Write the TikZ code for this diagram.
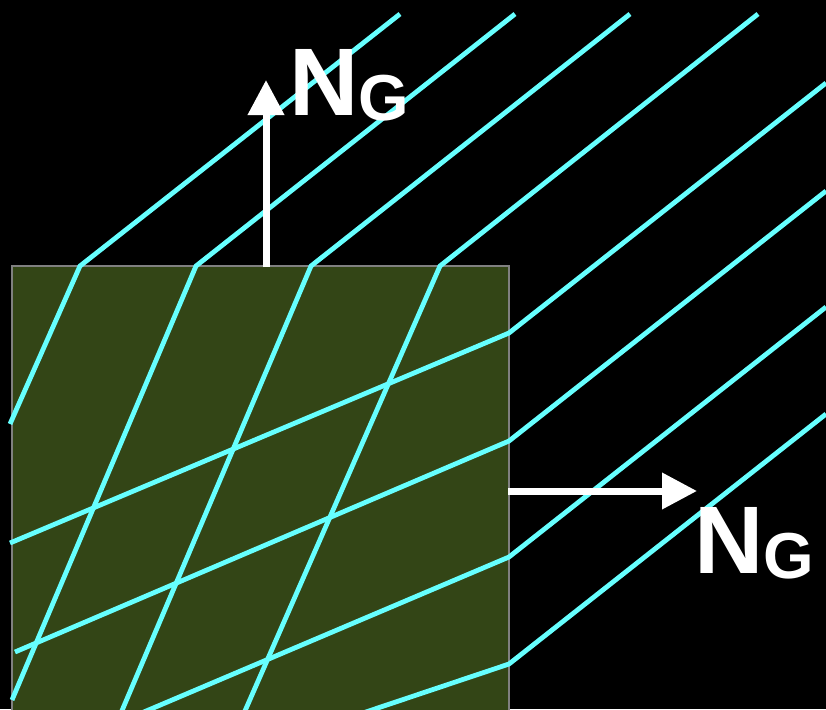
\documentclass[tikz,border=0pt]{standalone}
\usepackage{fontspec}
\setmainfont{Liberation Sans}
\usetikzlibrary{arrows.meta}
\definecolor{raycyan}{RGB}{102,255,255}
\definecolor{slabgreen}{RGB}{51,69,22}
\definecolor{slabedge}{RGB}{128,128,128}

\begin{document}
\begin{tikzpicture}[x=1pt,y=-1pt,
  ray/.style={raycyan,line width=4.8pt,line join=miter},
  ngarrow/.style={white,line width=7pt,-{Triangle[width=35pt,length=35pt]}},
  nglabel/.style={white,font=\bfseries,anchor=base west,inner sep=0pt}]
\fill[black] (0,0) rectangle (826,709);
\useasboundingbox (0,0) rectangle (826,709);
\clip (0,0) rectangle (826,709);
% slab
\fill[slabgreen] (12,266) rectangle (509,720);
\draw[slabedge,line width=1.2pt] (12,720) -- (12,266) -- (509,266) -- (509,720);
% rays entering through the top face
\foreach \xa/\xb/\xc/\yc in {400/80/10/424,515/196/12/700,630/311/118/720,758/440/241/720}{
  \draw[ray] (\xa,14) -- (\xb,266) -- (\xc,\yc);}
% rays entering through the right face
\foreach \ya/\yb/\xc/\yc in {83/333/10/543,191/441/15/652,307/557/125/720,414/664/342/720}{
  \draw[ray] (826,\ya) -- (509,\yb) -- (\xc,\yc);}
% normals
\coordinate (topfoot) at (266,267);
\coordinate (toptip) at (266,80);
\coordinate (sidefoot) at (508,491);
\coordinate (sidetip) at (697,491);
\draw[ngarrow] (topfoot) -- (toptip);
\draw[ngarrow] (sidefoot) -- (sidetip);
\node[nglabel] (ngtop) at (289,115) {\fontsize{96}{96}\selectfont N\raisebox{-5pt}{\fontsize{65}{65}\selectfont G}};
\node[nglabel] (ngside) at (694,573) {\fontsize{96}{96}\selectfont N\raisebox{-5pt}{\fontsize{65}{65}\selectfont G}};
\end{tikzpicture}
\end{document}
